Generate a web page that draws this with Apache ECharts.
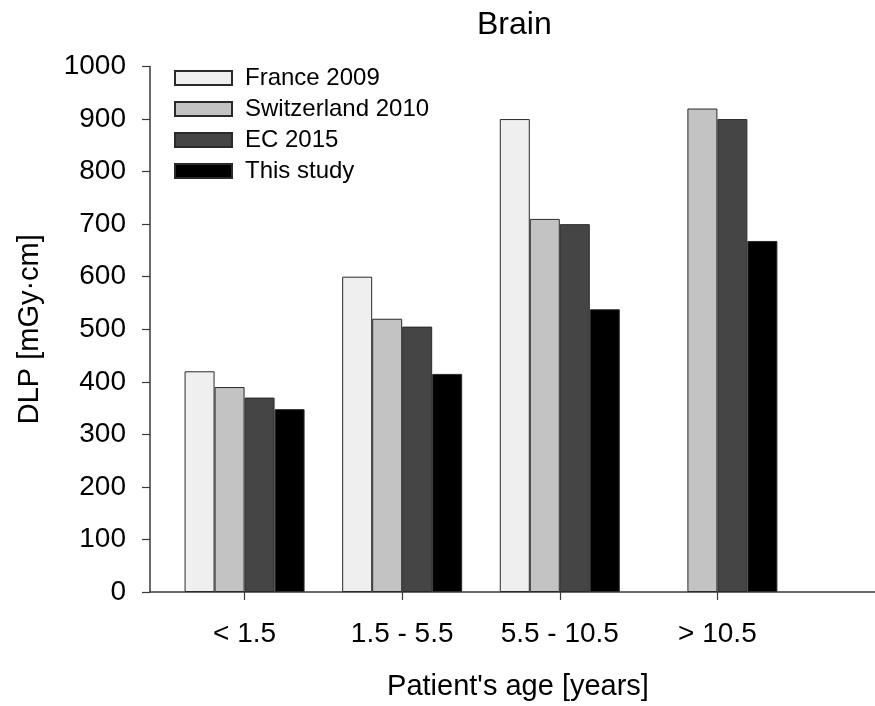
<!DOCTYPE html>
<html>
<head>
<meta charset="utf-8">
<script src="https://cdn.jsdelivr.net/npm/echarts@6/dist/echarts.min.js"></script>
<style>
html,body{margin:0;padding:0;background:#fff;}
#c{width:875px;height:706px;}
</style>
</head>
<body>
<div id="c"></div>
<script>
var categories = ['< 1.5', '1.5 - 5.5', '5.5 - 10.5', '> 10.5'];
var catPos = [1, 2, 3, 4];
var seriesNames = ['France 2009', 'Switzerland 2010', 'EC 2015', 'This study'];
var france = [420, 600, 900, null];
var switzerland = [390, 520, 710, 920];
var ec2015 = [370, 505, 700, 900];
var thisStudy = [348, 415, 538, 668];
var yTicks = [0, 100, 200, 300, 400, 500, 600, 700, 800, 900, 1000];

var FONT = '"Liberation Sans", Arial, sans-serif';
var colors = ['#efefef', '#c3c3c3', '#454545', '#000000'];
var allVals = [france, switzerland, ec2015, thisStudy];

function toData(vals) {
  var out = [];
  for (var i = 0; i < vals.length; i++) {
    if (vals[i] !== null) out.push([catPos[i], vals[i]]);
  }
  return out;
}

var series = seriesNames.map(function (name, k) {
  return {
    name: name,
    type: 'bar',
    barWidth: 30,
    barGap: '0%',
    data: toData(allVals[k]),
    itemStyle: { color: colors[k], borderColor: '#2a2a2a', borderWidth: 1 },
    emphasis: { disabled: true }
  };
});

var chart = echarts.init(document.getElementById('c'), null, { renderer: 'canvas' });
chart.setOption({
  animation: false,
  backgroundColor: '#ffffff',
  title: {
    text: 'Brain',
    left: 472,
    top: 4,
    textStyle: { fontFamily: FONT, fontSize: 32, fontWeight: 'normal', color: '#000' }
  },
  legend: {
    orient: 'vertical',
    left: 174,
    top: 66,
    padding: 0,
    itemWidth: 57,
    itemHeight: 14,
    itemGap: 7,
    icon: 'rect',
    selectedMode: false,
    textStyle: { fontFamily: FONT, fontSize: 24, color: '#000', lineHeight: 24, padding: [0, 0, 0, 8] },
    data: seriesNames
  },
  grid: { left: 150, right: -10, top: 66.5, bottom: 111, containLabel: false },
  xAxis: {
    type: 'value',
    min: 0.4,
    max: 5.0,
    name: "Patient's age [years]",
    nameLocation: 'middle',
    nameGap: 80,
    nameTextStyle: { fontFamily: FONT, fontSize: 29, color: '#000', padding: [0, 0, 0, 11] },
    axisLine: { show: true, onZero: false, lineStyle: { color: '#3a3a3a', width: 1.5 } },
    axisTick: { show: true, inside: false, length: 8, customValues: catPos, lineStyle: { color: '#3a3a3a', width: 1.2 } },
    axisLabel: {
      customValues: catPos,
      margin: 28,
      fontFamily: FONT, fontSize: 28, color: '#000',
      formatter: function (v) { return categories[Math.round(v) - 1]; }
    },
    splitLine: { show: false }
  },
  yAxis: {
    type: 'value',
    min: yTicks[0],
    max: yTicks[yTicks.length - 1],
    interval: 100,
    name: 'DLP [mGy·cm]',
    nameLocation: 'middle',
    nameGap: 106,
    nameTextStyle: { fontFamily: FONT, fontSize: 29, color: '#000' },
    axisLine: { show: true, lineStyle: { color: '#3a3a3a', width: 1.5 } },
    axisTick: { show: true, inside: false, length: 8, lineStyle: { color: '#3a3a3a', width: 1.2 } },
    axisLabel: {
      margin: 24, fontFamily: FONT, fontSize: 28, color: '#000',
      formatter: function (v) { return String(v); }
    },
    splitLine: { show: false }
  },
  series: series
});
</script>
</body>
</html>
